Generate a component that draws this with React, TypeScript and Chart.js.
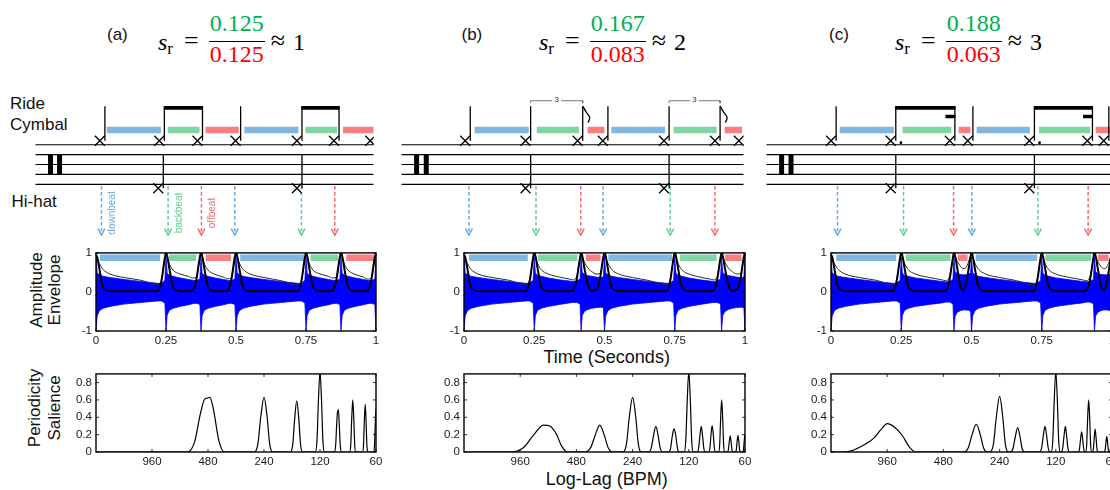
import { useEffect, useRef } from "react";
import { Chart, registerables } from "chart.js";

Chart.register(...registerables);

const SANS = "'Liberation Sans', Arial, Helvetica, sans-serif";
const SERIF = "'Liberation Serif', 'Times New Roman', serif";
Chart.defaults.font.family = SANS;
Chart.defaults.color = "#1a1a1a";

// ---------------- data ----------------
const panelLabels = ["(a)", "(b)", "(c)"];
const ratioNum = ["0.125", "0.167", "0.188"];
const ratioDen = ["0.125", "0.083", "0.063"];
const ratioApprox = ["1", "2", "3"];

// amplitude envelope plots: time axis ticks
const ampXTicks = [0, 0.25, 0.5, 0.75, 1];
const ampYTicks = [-1, 0, 1];
// periodicity plots
const bpmTicks = [960, 480, 240, 120, 60];
const salTicks = [0, 0.2, 0.4, 0.6, 0.8];

// notation: staff extent, clef bars, ride / hi-hat notes (time units)
const staffA = [-0.248, 1.021];
const staffB = [-0.252, 1.024];
const staffC = [-0.258, 1.05];
const clefA = [-0.191, -0.157];
const clefB = [-0.195, -0.159];
const clefC = [-0.201, -0.166];
const rideA = [-0.006, 0.217, 0.36, 0.503, 0.733, 0.872, 1.008];
const rideB = [-0.014, 0.211, 0.405, 0.499, 0.727, 0.917, 1.006];
const rideC = [-0.017, 0.205, 0.425, 0.492, 0.721, 0.937, 0.998];
const hatA = [0.213, 0.733];
const hatB = [0.211, 0.727];
const hatC = [0.205, 0.721];
const beamsA = [[1, 2], [4, 5]];
const beamsC = [[1, 2], [4, 5]];
const stubsC = [2, 5];
const dotsC = [1, 4];
const tripletsB = [[1, 2], [4, 5]];
const flagsB = [2, 5];

// coloured beat spans (downbeat, backbeat, offbeat, repeated)
const staffBarsA = [[0.02, 0.223], [0.249, 0.368], [0.39, 0.515], [0.536, 0.739], [0.765, 0.884], [0.906, 1.021]];
const staffBarsB = [[0.021, 0.223], [0.253, 0.41], [0.442, 0.505], [0.531, 0.731], [0.763, 0.923], [0.953, 1.018]];
const staffBarsC = [[0.015, 0.217], [0.249, 0.431], [0.458, 0.502], [0.525, 0.723], [0.757, 0.947], [0.968, 1.03]];
const ampBarsA = [[0.014, 0.229], [0.261, 0.358], [0.392, 0.482], [0.515, 0.744], [0.766, 0.864], [0.894, 0.992]];
const ampBarsB = [[0.018, 0.227], [0.264, 0.403], [0.434, 0.486], [0.514, 0.741], [0.769, 0.899], [0.929, 0.988]];
const ampBarsC = [[0.019, 0.232], [0.267, 0.425], [0.452, 0.486], [0.515, 0.733], [0.763, 0.925], [0.95, 0.988]];

// dashed onset arrows
const arrowsA = [0, 0.25, 0.375, 0.5, 0.75, 0.875];
const arrowsB = [0, 0.25, 0.4167, 0.5, 0.75, 0.9167];
const arrowsC = [0.007, 0.253, 0.439, 0.507, 0.753, 0.94];
const arrowWordsA = ["downbeat", "backbeat", "offbeat"];

// waveform band (top / bottom), thin envelope, thick onset curve
const tA = [
  0, 0.004, 0.012, 0.025, 0.05, 0.1, 0.16, 0.22, 0.233, 0.246,
  0.25, 0.254, 0.262, 0.275, 0.3, 0.33, 0.345, 0.358, 0.371,
  0.375, 0.379, 0.387, 0.4, 0.425, 0.455, 0.47, 0.483, 0.496,
  0.5, 0.504, 0.512, 0.525, 0.55, 0.6, 0.66, 0.72, 0.733, 0.746,
  0.75, 0.754, 0.762, 0.775, 0.8, 0.83, 0.845, 0.858, 0.871,
  0.875, 0.879, 0.887, 0.9, 0.925, 0.955, 0.97, 0.983, 0.996,
  1,
];
const thickA = [
  0.95, 0.9, 0.6, 0.13, 0.02, 0.02, 0.02, 0.02, 0.25, 0.88,
  1, 0.93, 0.6, 0.13, 0.02, 0.02, 0.03, 0.3, 0.9,
  1, 0.93, 0.6, 0.13, 0.02, 0.02, 0.03, 0.3, 0.9,
  1, 0.93, 0.6, 0.13, 0.02, 0.02, 0.02, 0.02, 0.25, 0.88,
  1, 0.93, 0.6, 0.13, 0.02, 0.02, 0.03, 0.3, 0.9,
  1, 0.93, 0.6, 0.13, 0.02, 0.02, 0.03, 0.3, 0.9,
  1,
];
const thinA = [
  0.92, 0.86, 0.73, 0.58, 0.46, 0.37, 0.3, 0.19, 0.3, 0.85,
  0.97, 0.9, 0.72, 0.56, 0.46, 0.4, 0.36, 0.37, 0.85,
  0.97, 0.9, 0.72, 0.56, 0.45, 0.38, 0.34, 0.37, 0.85,
  0.97, 0.9, 0.74, 0.58, 0.46, 0.37, 0.29, 0.18, 0.3, 0.85,
  0.97, 0.9, 0.72, 0.56, 0.46, 0.4, 0.36, 0.37, 0.85,
  0.97, 0.9, 0.72, 0.56, 0.45, 0.38, 0.33, 0.36, 0.85,
  0.97,
];
const topA = [
  0.95, 0.5, 0.44, 0.4, 0.37, 0.32, 0.27, 0.22, 0.22, 0.3,
  0.88, 0.48, 0.43, 0.4, 0.36, 0.32, 0.3, 0.29, 0.33,
  0.88, 0.48, 0.43, 0.4, 0.36, 0.32, 0.3, 0.29, 0.33,
  0.9, 0.5, 0.44, 0.4, 0.37, 0.32, 0.27, 0.22, 0.22, 0.3,
  0.88, 0.48, 0.43, 0.4, 0.36, 0.32, 0.3, 0.29, 0.33,
  0.88, 0.48, 0.43, 0.4, 0.36, 0.32, 0.3, 0.29, 0.33,
  0.9,
];
const botA = [
  -1, -0.62, -0.48, -0.42, -0.37, -0.31, -0.27, -0.23, -0.23, -0.28,
  -1, -0.6, -0.47, -0.42, -0.37, -0.33, -0.3, -0.29, -0.32,
  -1, -0.6, -0.47, -0.42, -0.37, -0.33, -0.3, -0.29, -0.32,
  -1, -0.62, -0.48, -0.42, -0.37, -0.31, -0.27, -0.23, -0.23, -0.28,
  -1, -0.6, -0.47, -0.42, -0.37, -0.33, -0.3, -0.29, -0.32,
  -1, -0.6, -0.47, -0.42, -0.37, -0.33, -0.3, -0.29, -0.32,
  -1,
];

const tB = [
  0, 0.004, 0.012, 0.025, 0.05, 0.1, 0.16, 0.22, 0.233, 0.246,
  0.25, 0.254, 0.262, 0.275, 0.3, 0.34, 0.375, 0.387, 0.4, 0.413,
  0.4167, 0.4207, 0.4287, 0.44, 0.455, 0.47, 0.484, 0.496,
  0.5, 0.504, 0.512, 0.525, 0.55, 0.6, 0.66, 0.72, 0.733, 0.746,
  0.75, 0.754, 0.762, 0.775, 0.8, 0.84, 0.875, 0.887, 0.9, 0.913,
  0.9167, 0.9207, 0.9287, 0.94, 0.955, 0.97, 0.984, 0.996,
  1,
];
const thickB = [
  0.95, 0.9, 0.6, 0.13, 0.02, 0.02, 0.02, 0.02, 0.25, 0.88,
  1, 0.93, 0.6, 0.13, 0.02, 0.02, 0.02, 0.03, 0.28, 0.88,
  1, 0.93, 0.6, 0.2, 0.03, 0.05, 0.35, 0.9,
  1, 0.93, 0.6, 0.13, 0.02, 0.02, 0.02, 0.02, 0.25, 0.88,
  1, 0.93, 0.6, 0.13, 0.02, 0.02, 0.02, 0.03, 0.28, 0.88,
  1, 0.93, 0.6, 0.2, 0.03, 0.05, 0.35, 0.9,
  1,
];
const thinB = [
  0.92, 0.86, 0.73, 0.58, 0.46, 0.37, 0.3, 0.19, 0.3, 0.85,
  0.97, 0.9, 0.73, 0.57, 0.46, 0.38, 0.33, 0.31, 0.38, 0.85,
  0.97, 0.9, 0.76, 0.62, 0.52, 0.46, 0.47, 0.85,
  0.97, 0.9, 0.74, 0.58, 0.46, 0.37, 0.29, 0.18, 0.3, 0.85,
  0.97, 0.9, 0.73, 0.57, 0.46, 0.38, 0.33, 0.31, 0.38, 0.85,
  0.97, 0.9, 0.76, 0.62, 0.52, 0.46, 0.47, 0.85,
  0.97,
];
const topB = [
  0.95, 0.5, 0.44, 0.4, 0.37, 0.32, 0.27, 0.22, 0.22, 0.3,
  0.88, 0.48, 0.43, 0.4, 0.36, 0.31, 0.28, 0.27, 0.28, 0.33,
  0.88, 0.5, 0.45, 0.42, 0.4, 0.38, 0.37, 0.38,
  0.9, 0.5, 0.44, 0.4, 0.37, 0.32, 0.27, 0.22, 0.22, 0.3,
  0.88, 0.48, 0.43, 0.4, 0.36, 0.31, 0.28, 0.27, 0.28, 0.33,
  0.88, 0.5, 0.45, 0.42, 0.4, 0.38, 0.37, 0.38,
  0.9,
];
const botB = [
  -1, -0.62, -0.48, -0.42, -0.37, -0.31, -0.27, -0.23, -0.23, -0.28,
  -1, -0.6, -0.47, -0.42, -0.37, -0.32, -0.28, -0.27, -0.27, -0.3,
  -1, -0.6, -0.5, -0.45, -0.42, -0.4, -0.39, -0.4,
  -1, -0.62, -0.48, -0.42, -0.37, -0.31, -0.27, -0.23, -0.23, -0.28,
  -1, -0.6, -0.47, -0.42, -0.37, -0.32, -0.28, -0.27, -0.27, -0.3,
  -1, -0.6, -0.5, -0.45, -0.42, -0.4, -0.39, -0.4,
  -1,
];

const tC = [
  0, 0.004, 0.012, 0.025, 0.05, 0.1, 0.16, 0.22, 0.233, 0.246,
  0.25, 0.254, 0.262, 0.275, 0.3, 0.35, 0.395, 0.408, 0.421, 0.434,
  0.4375, 0.4415, 0.4495, 0.46, 0.47, 0.48, 0.49, 0.497,
  0.5, 0.504, 0.512, 0.525, 0.55, 0.6, 0.66, 0.72, 0.733, 0.746,
  0.75, 0.754, 0.762, 0.775, 0.8, 0.85, 0.895, 0.908, 0.921, 0.934,
  0.9375, 0.9415, 0.9495, 0.96, 0.97, 0.98, 0.99, 0.997,
  1,
];
const thickC = [
  0.95, 0.9, 0.6, 0.13, 0.02, 0.02, 0.02, 0.02, 0.25, 0.88,
  1, 0.93, 0.6, 0.13, 0.02, 0.02, 0.02, 0.03, 0.28, 0.88,
  1, 0.93, 0.6, 0.18, 0.05, 0.2, 0.6, 0.93,
  1, 0.93, 0.6, 0.13, 0.02, 0.02, 0.02, 0.02, 0.25, 0.88,
  1, 0.93, 0.6, 0.13, 0.02, 0.02, 0.02, 0.03, 0.28, 0.88,
  1, 0.93, 0.6, 0.18, 0.05, 0.2, 0.6, 0.93,
  1,
];
const thinC = [
  0.92, 0.86, 0.73, 0.58, 0.46, 0.37, 0.3, 0.19, 0.3, 0.85,
  0.97, 0.9, 0.73, 0.57, 0.46, 0.37, 0.31, 0.29, 0.38, 0.85,
  0.97, 0.9, 0.78, 0.66, 0.6, 0.62, 0.78, 0.93,
  0.97, 0.9, 0.74, 0.58, 0.46, 0.37, 0.29, 0.18, 0.3, 0.85,
  0.97, 0.9, 0.73, 0.57, 0.46, 0.37, 0.31, 0.29, 0.38, 0.85,
  0.97, 0.9, 0.78, 0.66, 0.6, 0.62, 0.78, 0.93,
  0.97,
];
const topC = [
  0.95, 0.5, 0.44, 0.4, 0.37, 0.32, 0.27, 0.22, 0.22, 0.3,
  0.88, 0.48, 0.43, 0.4, 0.36, 0.31, 0.27, 0.26, 0.27, 0.32,
  0.88, 0.52, 0.47, 0.45, 0.44, 0.44, 0.45, 0.5,
  0.9, 0.5, 0.44, 0.4, 0.37, 0.32, 0.27, 0.22, 0.22, 0.3,
  0.88, 0.48, 0.43, 0.4, 0.36, 0.31, 0.27, 0.26, 0.27, 0.32,
  0.88, 0.52, 0.47, 0.45, 0.44, 0.44, 0.45, 0.5,
  0.9,
];
const botC = [
  -1, -0.62, -0.48, -0.42, -0.37, -0.31, -0.27, -0.23, -0.23, -0.28,
  -1, -0.6, -0.47, -0.42, -0.37, -0.32, -0.28, -0.26, -0.26, -0.3,
  -1, -0.62, -0.52, -0.48, -0.46, -0.46, -0.47, -0.5,
  -1, -0.62, -0.48, -0.42, -0.37, -0.31, -0.27, -0.23, -0.23, -0.28,
  -1, -0.6, -0.47, -0.42, -0.37, -0.32, -0.28, -0.26, -0.26, -0.3,
  -1, -0.62, -0.52, -0.48, -0.46, -0.46, -0.47, -0.5,
  -1,
];

// periodicity salience over lag (seconds); labelled in BPM = 60 / lag
const lagA = [
  0.03125, 0.097, 0.106, 0.114, 0.12, 0.124, 0.128, 0.134, 0.143, 0.153,
  0.222, 0.232, 0.24, 0.25, 0.26, 0.268, 0.278,
  0.347, 0.357, 0.365, 0.375, 0.385, 0.393, 0.403,
  0.472, 0.482, 0.49, 0.5, 0.51, 0.518, 0.528,
  0.597, 0.607, 0.615, 0.62, 0.624, 0.628, 0.635, 0.643, 0.653,
  0.722, 0.732, 0.74, 0.75, 0.76, 0.768, 0.778,
  0.847, 0.857, 0.865, 0.875, 0.885, 0.893, 0.903,
  0.972, 0.982, 0.99, 1.0, 1.01, 1.018, 1.028,
];
const salA = [
  0, 0, 0.12, 0.45, 0.61, 0.62, 0.63, 0.48, 0.13, 0,
  0, 0.1, 0.4, 0.63, 0.4, 0.1, 0,
  0, 0.09, 0.37, 0.59, 0.37, 0.09, 0,
  0, 0.14, 0.57, 0.93, 0.57, 0.14, 0,
  0, 0.08, 0.33, 0.45, 0.47, 0.49, 0.3, 0.07, 0,
  0, 0.09, 0.37, 0.6, 0.37, 0.09, 0,
  0, 0.08, 0.34, 0.55, 0.34, 0.08, 0,
  0, 0.08, 0.3, 0.5, 0.3, 0.08, 0,
];
const lagB = [
  0.03125, 0.055, 0.065, 0.074, 0.0833, 0.09, 0.098, 0.104, 0.112,
  0.139, 0.149, 0.158, 0.1667, 0.176, 0.185, 0.195,
  0.222, 0.232, 0.24, 0.25, 0.26, 0.268, 0.278,
  0.305, 0.315, 0.323, 0.3333, 0.343, 0.351, 0.361,
  0.389, 0.399, 0.407, 0.4167, 0.427, 0.435, 0.445,
  0.472, 0.482, 0.49, 0.5, 0.51, 0.518, 0.528,
  0.555, 0.565, 0.573, 0.5833, 0.593, 0.601, 0.611,
  0.639, 0.649, 0.657, 0.6667, 0.677, 0.685, 0.695,
  0.722, 0.732, 0.74, 0.75, 0.76, 0.768, 0.778,
  0.805, 0.815, 0.823, 0.8333, 0.843, 0.851, 0.861,
  0.889, 0.899, 0.907, 0.9167, 0.927, 0.935, 0.945,
  0.972, 0.982, 0.99, 1.0, 1.01, 1.018, 1.028,
];
const salB = [
  0, 0, 0.05, 0.2, 0.31, 0.3, 0.2, 0.07, 0,
  0, 0.05, 0.2, 0.31, 0.2, 0.05, 0,
  0, 0.1, 0.4, 0.63, 0.4, 0.1, 0,
  0, 0.05, 0.18, 0.295, 0.18, 0.05, 0,
  0, 0.04, 0.17, 0.27, 0.17, 0.04, 0,
  0, 0.14, 0.57, 0.93, 0.57, 0.14, 0,
  0, 0.05, 0.18, 0.295, 0.18, 0.05, 0,
  0, 0.05, 0.19, 0.305, 0.19, 0.05, 0,
  0, 0.09, 0.37, 0.6, 0.37, 0.09, 0,
  0, 0.03, 0.11, 0.185, 0.11, 0.03, 0,
  0, 0.03, 0.12, 0.19, 0.12, 0.03, 0,
  0, 0.03, 0.12, 0.195, 0.12, 0.03, 0,
];
const lagC = [
  0.03125, 0.0364, 0.041, 0.045, 0.053, 0.058, 0.0625, 0.068, 0.0753, 0.082, 0.089,
  0.16, 0.17, 0.178, 0.1875, 0.197, 0.205, 0.215,
  0.222, 0.232, 0.24, 0.25, 0.26, 0.268, 0.278,
  0.285, 0.295, 0.303, 0.3125, 0.322, 0.33, 0.34,
  0.41, 0.42, 0.428, 0.4375, 0.447, 0.455, 0.465,
  0.472, 0.482, 0.49, 0.5, 0.51, 0.518, 0.528,
  0.535, 0.545, 0.553, 0.5625, 0.572, 0.58, 0.59,
  0.66, 0.67, 0.678, 0.6875, 0.697, 0.705, 0.715,
  0.722, 0.732, 0.74, 0.75, 0.76, 0.768, 0.778,
  0.785, 0.795, 0.803, 0.8125, 0.822, 0.83, 0.84,
  0.91, 0.92, 0.928, 0.9375, 0.947, 0.955, 0.965,
  0.972, 0.982, 0.99, 1.0, 1.01, 1.018, 1.028,
];
const salC = [
  0, 0, 0.02, 0.06, 0.16, 0.26, 0.326, 0.29, 0.19, 0.06, 0,
  0, 0.05, 0.2, 0.32, 0.2, 0.05, 0,
  0, 0.1, 0.4, 0.64, 0.4, 0.1, 0,
  0, 0.04, 0.17, 0.28, 0.17, 0.04, 0,
  0, 0.05, 0.18, 0.296, 0.18, 0.05, 0,
  0, 0.14, 0.57, 0.93, 0.57, 0.14, 0,
  0, 0.05, 0.18, 0.296, 0.18, 0.05, 0,
  0, 0.04, 0.14, 0.233, 0.14, 0.04, 0,
  0, 0.09, 0.37, 0.6, 0.37, 0.09, 0,
  0, 0.04, 0.16, 0.263, 0.16, 0.04, 0,
  0, 0.03, 0.11, 0.18, 0.11, 0.03, 0,
  0, 0.05, 0.19, 0.31, 0.19, 0.05, 0,
];

// ---------------- layout & style ----------------
const GEO = [
  { left: 96, width: 280, labelX: 107, formulaX: 158 },
  { left: 464, width: 281, labelX: 461.5, formulaX: 539 },
  { left: 830.7, width: 281, labelX: 829, formulaX: 895 },
];
const BAR_COLORS = ["#80b6e0", "#7fd6a2", "#fa7f7f"];
const ARROW_COLORS = ["#6aa9dc", "#5fcd8f", "#f46a6a"];
const BLUE = "#0000ff";

// staff units: bottom line = 0, 11 px per line
const STAFF_LINES = [0, 1, 2, 3, 4];
const STAFF_TOP_PX = 84;
const STAFF_Y = [-5.7, 9.3];
const RIDE_Y = 4.4;
const HAT_Y = -0.4;
const STEM_TOP = 7.9;
const HAT_STEM_TOP = 2.95;
const BEAM_Y = 7.73;
const STUB_Y = 6.85;
const BAR_Y = 5.48;
const STEM_DX = 0.019;
const ARROW_TOP = -0.18;
const ARROW_TIP = -5.15;
const AMP_BAR_Y = 0.875;

type Pt = { x: number; y: number | null };
type Seg = number[];

function segData(segs: Seg[]): Pt[] {
  const out: Pt[] = [];
  segs.forEach(([x1, y1, x2, y2]) => {
    out.push({ x: x1, y: y1 }, { x: x2, y: y2 }, { x: x2, y: null });
  });
  return out;
}

function lineSet(data: Pt[], color: string, width: number, extra: any = {}) {
  return {
    data,
    borderColor: color,
    backgroundColor: color,
    borderWidth: width,
    pointRadius: 0,
    fill: false,
    tension: 0,
    clip: 0,
    borderCapStyle: "butt",
    ...extra,
  };
}

const framePlugin = {
  id: "frame",
  afterDatasetsDraw(chart: any) {
    const { ctx, chartArea: a, scales } = chart;
    ctx.save();
    ctx.strokeStyle = "#000";
    ctx.lineWidth = 0.8;
    ctx.beginPath();
    for (const t of scales.x.ticks) {
      const px = scales.x.getPixelForValue(t.value);
      ctx.moveTo(px, a.bottom);
      ctx.lineTo(px, a.bottom - 3);
      ctx.moveTo(px, a.top);
      ctx.lineTo(px, a.top + 3);
    }
    for (const t of scales.y.ticks) {
      const py = scales.y.getPixelForValue(t.value);
      ctx.moveTo(a.left, py);
      ctx.lineTo(a.left + 3, py);
      ctx.moveTo(a.right, py);
      ctx.lineTo(a.right - 3, py);
    }
    ctx.stroke();
    ctx.lineWidth = 1.4;
    ctx.strokeRect(a.left, a.top, a.right - a.left, a.bottom - a.top);
    ctx.restore();
  },
};

type TextItem = { x: number; y: number; text: string; color: string; size: number; rotate?: boolean };

function textPlugin(items: TextItem[]) {
  return {
    id: "notationText",
    afterDatasetsDraw(chart: any) {
      const { ctx, scales } = chart;
      items.forEach((it) => {
        const px = scales.x.getPixelForValue(it.x);
        const py = scales.y.getPixelForValue(it.y);
        ctx.save();
        ctx.fillStyle = it.color;
        ctx.font = `${it.size}px ${SANS}`;
        ctx.textAlign = "center";
        ctx.textBaseline = "middle";
        ctx.translate(px, py);
        if (it.rotate) ctx.rotate(-Math.PI / 2);
        ctx.fillText(it.text, 0, 0);
        ctx.restore();
      });
    },
  };
}

type NotationPanel = {
  staff: number[];
  clef: number[];
  ride: number[];
  hat: number[];
  bars: number[][];
  arrows: number[];
  beams?: number[][];
  stubs?: number[];
  dots?: number[];
  triplets?: number[][];
  flags?: number[];
  words?: string[];
};

const notations: NotationPanel[] = [
  { staff: staffA, clef: clefA, ride: rideA, hat: hatA, bars: staffBarsA, arrows: arrowsA, beams: beamsA, words: arrowWordsA },
  { staff: staffB, clef: clefB, ride: rideB, hat: hatB, bars: staffBarsB, arrows: arrowsB, triplets: tripletsB, flags: flagsB },
  { staff: staffC, clef: clefC, ride: rideC, hat: hatC, bars: staffBarsC, arrows: arrowsC, beams: beamsC, stubs: stubsC, dots: dotsC },
];

function notationConfig(p: NotationPanel) {
  const [s0, s1] = p.staff;
  const stem = (i: number) => p.ride[i] + STEM_DX;
  const ds: any[] = [];
  const texts: TextItem[] = [];

  // ride and hi-hat noteheads (top of the drawing order)
  ds.push(lineSet(p.ride.map((x) => ({ x, y: RIDE_Y })), "#000", 1.3, {
    showLine: false, pointRadius: 7, pointStyle: "crossRot", pointBorderWidth: 1.3, pointBorderColor: "#000",
  }));
  ds.push(lineSet(p.hat.map((x) => ({ x, y: HAT_Y })), "#000", 1.3, {
    showLine: false, pointRadius: 7, pointStyle: "crossRot", pointBorderWidth: 1.3, pointBorderColor: "#000",
  }));
  if (p.dots) {
    ds.push(lineSet(p.dots.map((i) => ({ x: p.ride[i] + 0.038, y: 4.2 })), "#000", 1, {
      showLine: false, pointRadius: 1.4, pointStyle: "circle", pointBackgroundColor: "#000", pointBorderWidth: 0,
    }));
  }
  // stems
  ds.push(lineSet(segData(p.ride.map((x, i) => [stem(i), RIDE_Y, stem(i), STEM_TOP])), "#000", 1.3));
  ds.push(lineSet(segData(p.hat.map((x) => [x + STEM_DX, HAT_Y, x + STEM_DX, HAT_STEM_TOP])), "#000", 1.3));
  if (p.beams) {
    ds.push(lineSet(segData(p.beams.map(([i, j]) => [stem(i) - 0.002, BEAM_Y, stem(j) + 0.002, BEAM_Y])), "#000", 3.8));
  }
  if (p.stubs) {
    ds.push(lineSet(segData(p.stubs.map((j) => [stem(j) - 0.035, STUB_Y, stem(j) + 0.002, STUB_Y])), "#000", 3.5));
  }
  if (p.triplets) {
    const segs: Seg[] = [];
    p.triplets.forEach(([i, j]) => {
      const a = stem(i), b = stem(j), m = (a + b) / 2;
      segs.push([a, 8.2, a, 8.45], [a, 8.45, m - 0.016, 8.45], [m + 0.016, 8.45, b, 8.45], [b, 8.45, b, 8.2]);
      texts.push({ x: m, y: 8.5, text: "3", color: "#333", size: 8 });
    });
    ds.push(lineSet(segData(segs), "#555", 0.8));
  }
  if (p.flags) {
    const pts: Pt[] = [];
    p.flags.forEach((j) => {
      const x = stem(j);
      pts.push(
        { x, y: STEM_TOP },
        { x: x + 0.012, y: STEM_TOP - 0.55 },
        { x: x + 0.026, y: STEM_TOP - 1.15 },
        { x: x + 0.02, y: STEM_TOP - 1.65 },
        { x: x + 0.02, y: null },
      );
    });
    ds.push(lineSet(pts, "#000", 1.3, { tension: 0.4 }));
  }
  // coloured beat spans
  [0, 1, 2].forEach((k) => {
    const segs = p.bars.filter((_, i) => i % 3 === k).map(([a, b]) => [a, BAR_Y, b, BAR_Y]);
    ds.push(lineSet(segData(segs), BAR_COLORS[k], 6.5));
  });
  // onset arrows
  [0, 1, 2].forEach((k) => {
    const xs = p.arrows.filter((_, i) => i % 3 === k);
    ds.push(lineSet(segData(xs.map((x) => [x, ARROW_TOP, x, ARROW_TIP + 0.1])), ARROW_COLORS[k], 1.5, { borderDash: [3.5, 2.5] }));
    const heads: Seg[] = [];
    xs.forEach((x) => {
      heads.push([x - 0.012, ARROW_TIP + 0.62, x, ARROW_TIP], [x, ARROW_TIP, x + 0.012, ARROW_TIP + 0.62]);
    });
    ds.push(lineSet(segData(heads), ARROW_COLORS[k], 1.5, { borderCapStyle: "round" }));
  });
  if (p.words) {
    p.words.forEach((w, k) => {
      texts.push({ x: p.arrows[k] + 0.042, y: -2.9, text: w, color: ARROW_COLORS[k], size: 10, rotate: true });
    });
  }
  // clef and staff (bottom)
  ds.push(lineSet(segData(p.clef.map((x) => [x, 1, x, 3])), "#000", 5));
  ds.push(lineSet(segData(STAFF_LINES.map((y) => [s0, y, s1, y])), "#000", 1.2));

  return {
    type: "line",
    data: { datasets: ds },
    options: {
      animation: false,
      responsive: false,
      events: [],
      layout: { padding: 0 },
      plugins: { legend: { display: false }, tooltip: { enabled: false } },
      scales: {
        x: { type: "linear", min: s0, max: s1, display: false },
        y: { type: "linear", min: STAFF_Y[0], max: STAFF_Y[1], display: false },
      },
    },
    plugins: [textPlugin(texts)],
  };
}

type AmpPanel = { t: number[]; top: number[]; bot: number[]; thin: number[]; thick: number[]; bars: number[][] };
const amps: AmpPanel[] = [
  { t: tA, top: topA, bot: botA, thin: thinA, thick: thickA, bars: ampBarsA },
  { t: tB, top: topB, bot: botB, thin: thinB, thick: thickB, bars: ampBarsB },
  { t: tC, top: topC, bot: botC, thin: thinC, thick: thickC, bars: ampBarsC },
];

const tickFont = { size: 11.5 };

function ampConfig(p: AmpPanel) {
  const series = (v: number[]) => p.t.map((x, i) => ({ x, y: v[i] }));
  const ds: any[] = [
    lineSet(series(p.thick), "#000", 2, { cubicInterpolationMode: "monotone" }),
    lineSet(series(p.thin), "#2a2a2a", 1, { cubicInterpolationMode: "monotone" }),
  ];
  [0, 1, 2].forEach((k) => {
    const segs = p.bars.filter((_, i) => i % 3 === k).map(([a, b]) => [a, AMP_BAR_Y, b, AMP_BAR_Y]);
    ds.push(lineSet(segData(segs), BAR_COLORS[k], 6.5));
  });
  ds.push(lineSet(series(p.top), BLUE, 0.8, { fill: "+1", backgroundColor: BLUE }));
  ds.push(lineSet(series(p.bot), BLUE, 0.8));
  return {
    type: "line",
    data: { datasets: ds },
    options: {
      animation: false,
      responsive: false,
      events: [],
      layout: { padding: { left: 6, right: 10, top: 8, bottom: 0 } },
      plugins: { legend: { display: false }, tooltip: { enabled: false } },
      scales: {
        x: {
          type: "linear", min: 0, max: 1,
          afterBuildTicks: (ax: any) => { ax.ticks = ampXTicks.map((value) => ({ value })); },
          afterFit: (ax: any) => { ax.height = 17; },
          ticks: { font: tickFont, padding: 3, maxRotation: 0, autoSkip: false, callback: (v: any) => String(v) },
          grid: { display: false, drawTicks: false },
          border: { display: false },
        },
        y: {
          type: "linear", min: -1, max: 1,
          afterBuildTicks: (ax: any) => { ax.ticks = ampYTicks.map((value) => ({ value })); },
          afterFit: (ax: any) => { ax.width = 34; },
          ticks: { font: tickFont, padding: 4, autoSkip: false, callback: (v: any) => String(v) },
          grid: { display: false, drawTicks: false },
          border: { display: false },
        },
      },
    },
    plugins: [framePlugin],
  };
}

const periods = [
  { lag: lagA, sal: salA },
  { lag: lagB, sal: salB },
  { lag: lagC, sal: salC },
];

function periodConfig(p: { lag: number[]; sal: number[] }) {
  return {
    type: "line",
    data: {
      datasets: [
        lineSet(p.lag.map((x, i) => ({ x, y: p.sal[i] })), "#000", 1.2, { cubicInterpolationMode: "monotone" }),
      ],
    },
    options: {
      animation: false,
      responsive: false,
      events: [],
      layout: { padding: { left: 6, right: 12, top: 8, bottom: 0 } },
      plugins: { legend: { display: false }, tooltip: { enabled: false } },
      scales: {
        x: {
          type: "logarithmic", min: 60 / 1920, max: 1,
          afterBuildTicks: (ax: any) => { ax.ticks = bpmTicks.map((b) => ({ value: 60 / b })); },
          afterFit: (ax: any) => { ax.height = 18; },
          ticks: { font: tickFont, padding: 3, maxRotation: 0, autoSkip: false, callback: (v: any) => String(Math.round(60 / Number(v))) },
          grid: { display: false, drawTicks: false },
          border: { display: false },
        },
        y: {
          type: "linear", min: 0, max: 0.9,
          afterBuildTicks: (ax: any) => { ax.ticks = salTicks.map((value) => ({ value })); },
          afterFit: (ax: any) => { ax.width = 34; },
          ticks: { font: tickFont, padding: 4, autoSkip: false, callback: (v: any) => String(v) },
          grid: { display: false, drawTicks: false },
          border: { display: false },
        },
      },
    },
    plugins: [framePlugin],
  };
}

function ChartBox({ x, y, w, h, make }: { x: number; y: number; w: number; h: number; make: () => any }) {
  const ref = useRef<HTMLCanvasElement>(null);
  useEffect(() => {
    if (!ref.current) return;
    const chart = new Chart(ref.current, make());
    return () => chart.destroy();
  }, []);
  const W = Math.round(w);
  const H = Math.round(h);
  return (
    <canvas
      ref={ref}
      width={W}
      height={H}
      style={{ position: "absolute", left: x, top: y, width: W, height: H }}
    />
  );
}

function Text({ x, y, size, children, rotate, center, style }: any) {
  const transform = rotate
    ? "translate(-50%, -50%) rotate(-90deg)"
    : center
    ? "translate(-50%, -50%)"
    : undefined;
  return (
    <div
      style={{
        position: "absolute",
        left: x,
        top: y,
        fontSize: size,
        fontFamily: SANS,
        whiteSpace: "nowrap",
        lineHeight: rotate || center ? 1 : "normal",
        color: "#111",
        transform,
        ...style,
      }}
    >
      {children}
    </div>
  );
}

function Formula({ x, num, den, approx }: { x: number; num: string; den: string; approx: string }) {
  return (
    <div
      style={{
        position: "absolute",
        left: x,
        top: 11,
        display: "flex",
        alignItems: "flex-start",
        fontFamily: SERIF,
        fontSize: 24,
        lineHeight: 1,
        whiteSpace: "nowrap",
        color: "#000",
      }}
    >
      <div style={{ marginTop: 18.5 }}>
        <i>s</i>
        <span style={{ fontSize: 17, position: "relative", top: 4 }}>r</span>
      </div>
      <div style={{ marginTop: 17, marginLeft: 11, marginRight: 10, fontSize: 26 }}>=</div>
      <div style={{ display: "flex", flexDirection: "column", alignItems: "stretch" }}>
        <div style={{ color: "#00b050", padding: "0 1px 5.5px", textAlign: "center" }}>{num}</div>
        <div style={{ color: "#ff0000", borderTop: "1.3px solid #000", paddingTop: 0.5, textAlign: "center" }}>{den}</div>
      </div>
      <div style={{ marginTop: 17, marginLeft: 6, fontSize: 26 }}>≈</div>
      <div style={{ marginTop: 18.5, marginLeft: 8 }}>{approx}</div>
    </div>
  );
}

export default function App() {
  return (
    <div
      style={{
        position: "fixed",
        left: 0,
        top: 0,
        width: 1110,
        height: 490,
        overflow: "hidden",
        background: "#fff",
      }}
    >
      {GEO.map((g, i) => (
        <div key={"t" + i}>
          <Text x={g.labelX} y={25} size={17}>{panelLabels[i]}</Text>
          <Formula x={g.formulaX} num={ratioNum[i]} den={ratioDen[i]} approx={ratioApprox[i]} />
        </div>
      ))}

      <Text x={10} y={94} size={17}>Ride</Text>
      <Text x={10} y={115} size={17}>Cymbal</Text>
      <Text x={11.5} y={192} size={17}>Hi-hat</Text>
      <Text x={36} y={290} size={17} rotate>Amplitude</Text>
      <Text x={54} y={290} size={17} rotate>Envelope</Text>
      <Text x={34} y={407.5} size={17} rotate>Periodicity</Text>
      <Text x={54} y={407.5} size={17} rotate>Salience</Text>
      <Text x={606.7} y={357} size={18} center>Time (Seconds)</Text>
      <Text x={606.7} y={479} size={18} center>Log-Lag (BPM)</Text>

      {GEO.map((g, i) => {
        const n = notations[i];
        const [s0, s1] = n.staff;
        return (
          <ChartBox
            key={"n" + i}
            x={g.left + s0 * g.width}
            y={STAFF_TOP_PX}
            w={(s1 - s0) * g.width}
            h={(STAFF_Y[1] - STAFF_Y[0]) * 11}
            make={() => notationConfig(n)}
          />
        );
      })}
      {GEO.map((g, i) => (
        <ChartBox key={"a" + i} x={g.left - 40} y={242} w={g.width + 50} h={106} make={() => ampConfig(amps[i])} />
      ))}
      {GEO.map((g, i) => (
        <ChartBox key={"p" + i} x={g.left - 40} y={363} w={g.width + 52} h={107} make={() => periodConfig(periods[i])} />
      ))}
    </div>
  );
}
